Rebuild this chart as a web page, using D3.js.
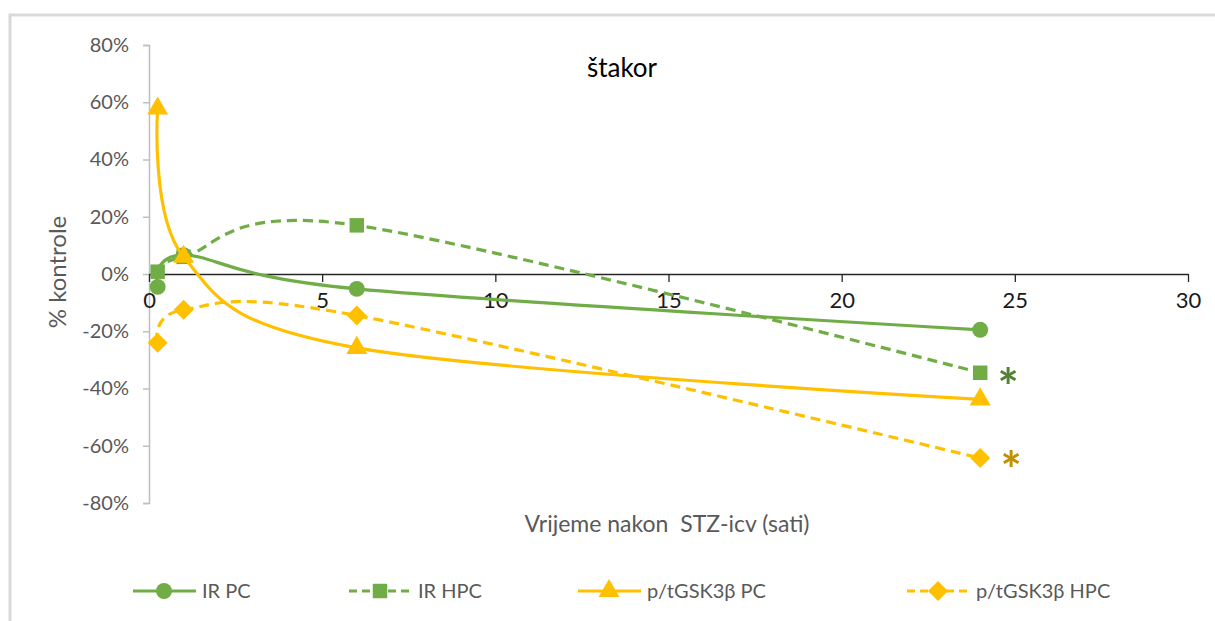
<!DOCTYPE html>
<html><head><meta charset="utf-8">
<script src="https://cdn.jsdelivr.net/npm/d3@7"></script>
<style>
body{margin:0;background:#fff;}
text{font-family:Lato,"Open Sans",sans-serif;white-space:pre;}
</style></head>
<body><svg id="c" width="1215" height="621"></svg>
<script>
const hours = [0.25, 1, 6, 24];
const irPC = [-4.5, 6.6, -5.2, -19.5];
const irHPC = [0.8, 6.0, 17.0, -34.5];
const gskPC = [57.8, 6.0, -25.8, -43.8];
const gskHPC = [-24.0, -12.5, -14.5, -64.3];
const xTicks = [0, 5, 10, 15, 20, 25, 30];
const yTicks = [-80, -60, -40, -20, 0, 20, 40, 60, 80];
const seriesNames = ["IR PC", "IR HPC", "p/tGSK3β PC", "p/tGSK3β HPC"];
const titleText = "štakor";
const xTitle = "Vrijeme nakon  STZ-icv (sati)";
const yTitle = "% kontrole";

const GREEN = "#70AD47", GOLD = "#FFC000";
const diamond = {draw(ctx, size){const r=Math.sqrt(size/2);ctx.moveTo(0,-r);ctx.lineTo(r,0);ctx.lineTo(0,r);ctx.lineTo(-r,0);ctx.closePath();}};
const series = [
  {name: seriesNames[0], vals: irPC, color: GREEN, dash: null, sym: d3.symbolCircle, size: 200},
  {name: seriesNames[1], vals: irHPC, color: GREEN, dash: "10,6", sym: d3.symbolSquare, size: 210},
  {name: seriesNames[2], vals: gskPC, color: GOLD, dash: null, sym: d3.symbolTriangle, size: 190},
  {name: seriesNames[3], vals: gskHPC, color: GOLD, dash: "10,6", sym: diamond, size: 200}
];

const svg = d3.select("#c");
svg.append("path").attr("d","M10,621 V15 H1215").attr("fill","none").attr("stroke","#d9d9d9").attr("stroke-width",3);

const x = d3.scaleLinear().domain([0,30]).range([149,1188]);
const y = d3.scaleLinear().domain([-80,80]).range([503,45]);

const ya = svg.append("g").attr("transform","translate(149,0)")
  .call(d3.axisLeft(y).tickValues(yTicks).tickSize(6).tickPadding(14).tickFormat(d=>d+"%"));
ya.select(".domain").attr("stroke","#bfbfbf").attr("stroke-width",1.5);
ya.selectAll(".tick line").attr("stroke","#bfbfbf").attr("stroke-width",1.5);
ya.selectAll(".tick text").attr("fill","#595959").attr("font-size",20).attr("font-family","Lato, sans-serif");

const xa = svg.append("g").attr("transform","translate(0,"+y(0)+")")
  .call(d3.axisBottom(x).tickValues(xTicks).tickSize(8).tickSizeOuter(0).tickPadding(10));
xa.select(".domain").attr("stroke","#262626").attr("stroke-width",1.3);
xa.selectAll(".tick line").attr("stroke","#262626").attr("stroke-width",1.3);
xa.selectAll(".tick text").attr("fill","#1a1a1a").attr("font-size",22).attr("font-family","Lato, sans-serif");

svg.append("text").attr("x",622).attr("y",77).attr("text-anchor","middle").attr("font-size",26).attr("fill","#000").text(titleText);
svg.append("text").attr("transform","translate(66,272) rotate(-90)").attr("text-anchor","middle")
  .attr("font-size",24).attr("fill","#595959").text(yTitle);
svg.append("text").attr("x",667).attr("y",532).attr("text-anchor","middle")
  .attr("font-size",23).attr("fill","#595959").text(xTitle);

const line = d3.line().x(d=>x(d[0])).y(d=>y(d[1])).curve(d3.curveCardinal.tension(0));
series.forEach(s=>{
  const pts = hours.map((h,i)=>[h,s.vals[i]]);
  svg.append("path").attr("d",line(pts)).attr("fill","none").attr("stroke",s.color)
    .attr("stroke-width",3.2).attr("stroke-dasharray",s.dash);
  svg.selectAll(null).data(pts).enter().append("path")
    .attr("transform",d=>`translate(${x(d[0])},${y(d[1])})`)
    .attr("d",d3.symbol().type(s.sym).size(s.size))
    .attr("fill",s.color);
});

svg.append("text").attr("x",x(24)+28).attr("y",y(irHPC[3])+32).attr("text-anchor","middle")
  .attr("font-size",50).attr("font-weight","bold").attr("font-family","DejaVu Sans").attr("fill","#538135").text("*");
svg.append("text").attr("x",x(24)+31).attr("y",y(gskHPC[3])+30).attr("text-anchor","middle")
  .attr("font-size",50).attr("font-weight","bold").attr("font-family","DejaVu Sans").attr("fill","#BF9000").text("*");

const legX = [133, 349, 578, 907];
series.forEach((s,i)=>{
  const g = svg.append("g").attr("transform",`translate(${legX[i]},591)`);
  g.append("line").attr("x1",0).attr("x2",63).attr("y1",0).attr("y2",0).attr("stroke",s.color)
    .attr("stroke-width",3.2).attr("stroke-dasharray",s.dash?"8,5":null);
  g.append("path").attr("transform","translate(31,0)")
    .attr("d",d3.symbol().type(s.sym).size(s.size))
    .attr("fill",s.color);
  g.append("text").attr("x",69).attr("y",7).attr("font-size",20).attr("fill","#595959").text(s.name);
});
</script></body></html>
